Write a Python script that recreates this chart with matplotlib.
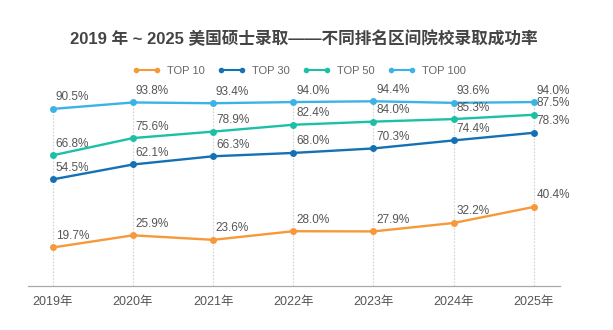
import matplotlib
matplotlib.use("Agg")
import matplotlib.pyplot as plt
from matplotlib.lines import Line2D

plt.rcParams['font.family'] = ['Liberation Sans', 'Noto Sans CJK SC', 'DejaVu Sans']

years = ['2019年', '2020年', '2021年', '2022年', '2023年', '2024年', '2025年']
series_names = ['TOP 10', 'TOP 30', 'TOP 50', 'TOP 100']
top10 = [19.7, 25.9, 23.6, 28.0, 27.9, 32.2, 40.4]
top30 = [54.5, 62.1, 66.3, 68.0, 70.3, 74.4, 78.3]
top50 = [66.8, 75.6, 78.9, 82.4, 84.0, 85.3, 87.5]
top100 = [90.5, 93.8, 93.4, 94.0, 94.4, 93.6, 94.0]
colors = ['#f7983a', '#1571b5', '#1cc0a6', '#3cb3e6']

all_series = [top10, top30, top50, top100]
x = list(range(len(years)))

fig = plt.figure(figsize=(6.13, 3.30), dpi=100)
ax = fig.add_axes([0.0457, 0.1333, 0.868, 0.593])

# dotted vertical guides up to the highest point at each year
tops = [max(v) for v in zip(*all_series)]
ax.vlines(x, 0, tops, colors='#d0d0d0', linestyles=(0, (1.5, 1.5)), linewidth=0.8, zorder=1)

for vals, col in zip(all_series, colors):
    ax.plot(x, vals, color=col, linewidth=1.7, marker='o', markersize=5,
            markeredgewidth=0, zorder=3)
    for xi, v in zip(x, vals):
        ax.annotate(f'{v:.1f}%', (xi, v), xytext=(2, 4), textcoords='offset points',
                    ha='left', va='bottom', fontsize=8.5, color='#555555', zorder=4)

ax.set_xlim(-0.31, 6.33)
ax.set_ylim(0, 100)
ax.set_xticks(x)
ax.set_xticklabels(years, fontsize=9, color='#555555')
ax.tick_params(axis='x', length=0, pad=7)
ax.set_yticks([])
for s in ['top', 'right', 'left']:
    ax.spines[s].set_visible(False)
ax.spines['bottom'].set_color('#aaaaaa')
ax.spines['bottom'].set_linewidth(0.9)

fig.text(0.495, 0.882, '2019 年 ~ 2025 美国硕士录取——不同排名区间院校录取成功率',
         ha='center', va='center', fontsize=12, fontweight='bold', color='#444444',
         family=['Liberation Sans', 'Noto Sans CJK SC'])

handles = []
for c in colors:
    h = Line2D([0, 1], [0, 0], color=c, linewidth=1.5, marker='o', markersize=4,
               markeredgewidth=0)
    handles.append(h)
leg = fig.legend(handles, series_names, loc='center', bbox_to_anchor=(0.488, 0.785),
                 ncol=4, frameon=False, fontsize=8, handlelength=2.5,
                 handletextpad=0.55, columnspacing=1.2, numpoints=2)
for t in leg.get_texts():
    t.set_color('#666666')

fig.savefig('out.png', dpi=100)
